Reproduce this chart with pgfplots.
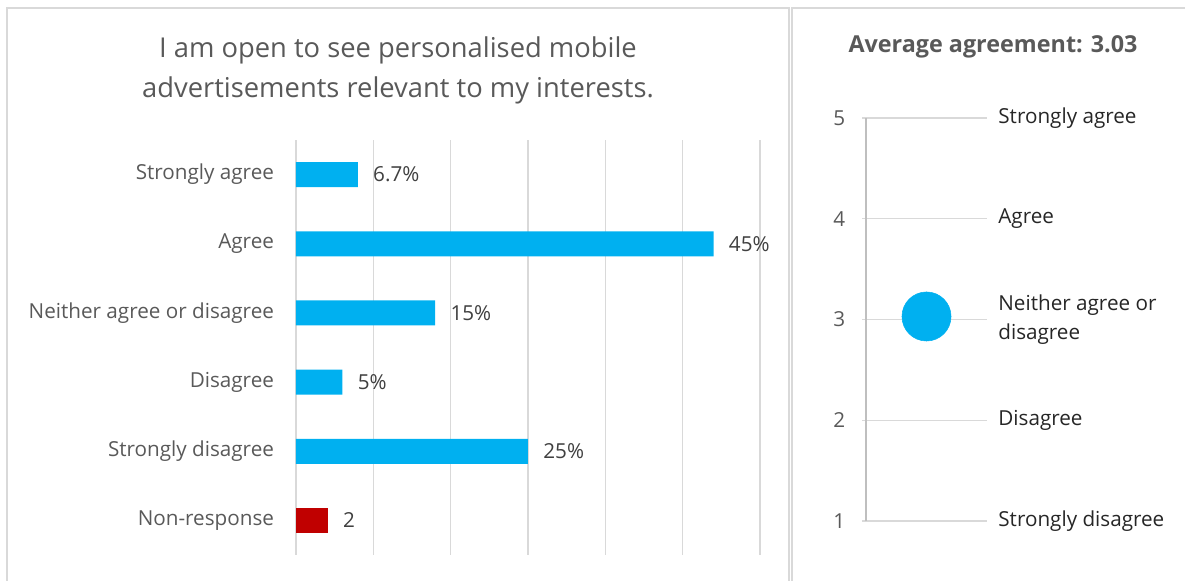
\documentclass[border=0pt]{standalone}
\usepackage{pgfplots}
\pgfplotsset{compat=1.18}
\usepackage{fontspec}
\setmainfont{Open Sans}
\definecolor{barblue}{HTML}{00B0F0}
\definecolor{barred}{HTML}{C00000}
\definecolor{txtgray}{HTML}{595959}
\definecolor{valgray}{HTML}{404040}
\definecolor{gridgray}{HTML}{D9D9D9}
\definecolor{axgray}{HTML}{BFBFBF}
\begin{document}
\begin{tikzpicture}
% 1 px of the reference = 0.75pt, origin at top left
\useasboundingbox (0,0) rectangle (888.75pt,-435.75pt);
% panel frames
\draw[gridgray, line width=1.1pt] (5.25pt,-440pt) -- (5.25pt,-6pt) -- (591.75pt,-6pt) -- (591.75pt,-440pt);
\draw[gridgray, line width=1.1pt] (594pt,-440pt) -- (594pt,-6pt) -- (892pt,-6pt);

% left title
\node[txtgray, font=\fontsize{20.5}{30}\selectfont, align=center] at (298.5pt,-52.5pt)
  {I am open to see personalised mobile\\advertisements relevant to my interests.};

\begin{axis}[
  at={(222pt,-416.25pt)}, anchor=south west,
  scale only axis, width=348pt, height=311.25pt,
  xbar, bar width=18.75pt, bar shift=0pt,
  xmin=0, xmax=6, ymin=-0.5, ymax=5.5,
  y dir=reverse,
  xtick={0,1,...,6}, xticklabels={},
  ytick={0,...,5},
  yticklabels={Strongly agree, Agree, Neither agree or disagree, Disagree, Strongly disagree, Non-response},
  yticklabel style={txtgray, font=\fontsize{15.5}{18}\selectfont, xshift=-13pt},
  xmajorgrids, major grid style={gridgray, line width=1.1pt},
  major tick length=0pt,
  axis line style={draw=none},
  point meta=explicit symbolic,
  nodes near coords,
  nodes near coords style={valgray, font=\fontsize{15.5}{18}\selectfont, anchor=west, xshift=8pt},
  clip=false,
]
\addplot[fill=barblue, draw=none] coordinates {
  (0.8,0) [6.7\%]
  (5.4,1) [45\%]
  (1.8,2) [15\%]
  (0.6,3) [5\%]
  (3.0,4) [25\%]
};
\addplot[fill=barred, draw=none] coordinates {
  (0.41,5) [2]
};
\end{axis}

% right panel
\node[txtgray, font=\fontsize{17.5}{20}\bfseries\selectfont] at (744.75pt,-35.5pt) {Average agreement: 3.03};

\begin{axis}[
  at={(649.5pt,-390.75pt)}, anchor=south west,
  scale only axis, width=90.75pt, height=302.25pt,
  xmin=0, xmax=1, ymin=1, ymax=5,
  ytick={1,...,5}, xtick=\empty,
  ymajorgrids, major grid style={gridgray, line width=1.1pt},
  tick align=outside, major tick length=6pt,
  tick style={gridgray, line width=1.1pt},
  axis x line=none,
  axis y line=left, axis line style={axgray, line width=1.1pt, -},
  yticklabel style={txtgray, font=\fontsize{15.5}{18}\selectfont, xshift=-9pt},
  /pgf/number format/assume math mode=true,
  clip=false,
]
\addplot[barblue, only marks, mark=*, mark size=18.4pt, mark options={fill=barblue, draw=barblue}] coordinates {(0.5,3.03)};
\node[anchor=west, black!85, font=\fontsize{15.5}{18}\selectfont] at (axis cs:1,5) [xshift=5pt] {Strongly agree};
\node[anchor=west, black!85, font=\fontsize{15.5}{18}\selectfont] at (axis cs:1,4) [xshift=5pt] {Agree};
\node[anchor=west, black!85, font=\fontsize{15.5}{22}\selectfont, align=left] at (axis cs:1,3) [xshift=5pt] {Neither agree or\\disagree};
\node[anchor=west, black!85, font=\fontsize{15.5}{18}\selectfont] at (axis cs:1,2) [xshift=5pt] {Disagree};
\node[anchor=west, black!85, font=\fontsize{15.5}{18}\selectfont] at (axis cs:1,1) [xshift=5pt] {Strongly disagree};
\end{axis}
\end{tikzpicture}
\end{document}
